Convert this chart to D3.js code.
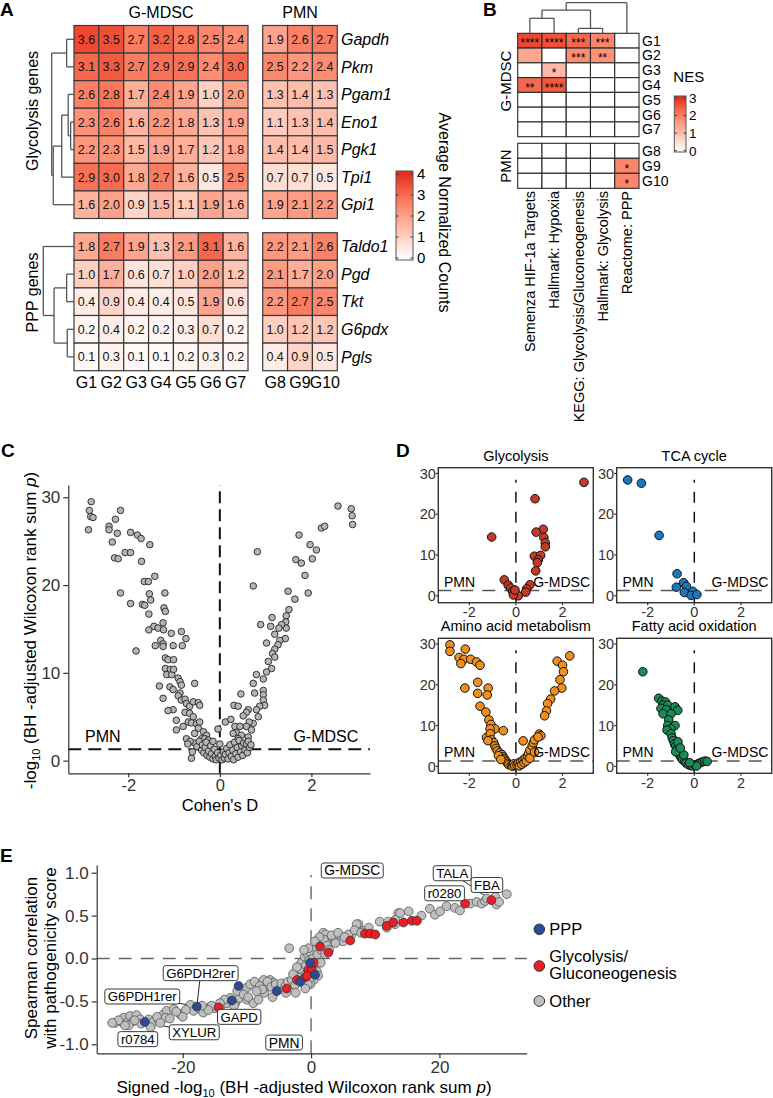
<!DOCTYPE html>
<html><head><meta charset="utf-8">
<script src="https://cdn.jsdelivr.net/npm/d3@7/dist/d3.min.js"></script>
<style>html,body{margin:0;padding:0;background:#fff;}</style>
</head><body>
<svg id="fig" width="773" height="1098" xmlns="http://www.w3.org/2000/svg"></svg>
<script>
// ================= DATA =================
// Panel A
const groupsGM = ["G1","G2","G3","G4","G5","G6","G7"];
const groupsPMN = ["G8","G9","G10"];
const glycGenes = ["Gapdh","Pkm","Pgam1","Eno1","Pgk1","Tpi1","Gpi1"];
const pppGenes = ["Taldo1","Pgd","Tkt","G6pdx","Pgls"];
const glycValues = [
  [3.6,3.5,2.7,3.2,2.8,2.5,2.4, 1.9,2.6,2.7],
  [3.1,3.3,2.7,2.9,2.9,2.4,3.0, 2.5,2.2,2.4],
  [2.6,2.8,1.7,2.4,1.9,1.0,2.0, 1.3,1.4,1.3],
  [2.3,2.6,1.6,2.2,1.8,1.3,1.9, 1.1,1.3,1.4],
  [2.2,2.3,1.5,1.9,1.7,1.2,1.8, 1.4,1.4,1.5],
  [2.9,3.0,1.8,2.7,1.6,0.5,2.5, 0.7,0.7,0.5],
  [1.6,2.0,0.9,1.5,1.1,1.9,1.6, 1.9,2.1,2.2]
];
const pppValues = [
  [1.8,2.7,1.9,1.3,2.1,3.1,1.6, 2.2,2.1,2.6],
  [1.0,1.7,0.6,0.7,1.0,2.0,1.2, 2.1,1.7,2.0],
  [0.4,0.9,0.4,0.4,0.5,1.9,0.6, 2.2,2.7,2.5],
  [0.2,0.4,0.2,0.2,0.3,0.7,0.2, 1.0,1.2,1.2],
  [0.1,0.3,0.1,0.1,0.2,0.3,0.2, 0.4,0.9,0.5]
];
// linkage: [childA, childB, height] ; leaves 0..n-1, merges n..
const glycLinkage = [[3,4,0.15],[2,7,0.26],[0,1,0.33],[8,5,0.55],[10,6,0.93],[9,11,1.0]];
const pppLinkage = [[1,2,0.24],[3,4,0.22],[5,6,0.65],[0,7,1.0]];
const countTicks = [0,1,2,3,4];

// Panel B
const geneSets = ["Semenza HIF-1a Targets","Hallmark: Hypoxia","KEGG: Glycolysis/Gluconeogenesis","Hallmark: Glycolysis","Reactome: PPP"];
const nesGroups = ["G1","G2","G3","G4","G5","G6","G7","G8","G9","G10"];
const nesValues = [
  [2.7,2.6,2.3,1.9,0],
  [1.4,0,1.8,1.7,0],
  [0,1.1,0,0,0],
  [2.3,2.5,0,0,0],
  [0,0,0,0,0],[0,0,0,0,0],[0,0,0,0,0],[0,0,0,0,0],
  [0,0,0,0,1.9],
  [0,0,0,0,1.9]
];
const nesStars = [
  ["****","****","***","***",""],
  ["","","***","**",""],
  ["","*","","",""],
  ["**","****","","",""],
  ["","","","",""],["","","","",""],["","","","",""],["","","","",""],
  ["","","","","*"],
  ["","","","","*"]
];
const setLinkage = [[2,3,0.16],[0,1,0.49],[6,5,0.76],[7,4,1.0]];
const nesTicks = [0,1,2,3];

// Panel C  [Cohen's D, -log10 p]
const cPoints = [
[-2.87,26.3],[-2.85,28.5],[-2.81,29.5],[-2.82,27.8],[-2.77,27.7],[-2.42,26.7],[-2.42,26.3],[-2.35,24.9],[-2.28,27.5],[-2.24,25.9],[-2.17,28.5],[-2.30,23.1],[-2.22,23.0],[-2.07,23.7],[-1.95,23.7],[-1.95,26.0],[-1.80,25.7],[-1.72,25.3],[-1.53,24.6],[-1.71,22.7],[-2.17,19.1],[-1.95,17.9],[-1.83,12.5],[-1.65,20.4],[-1.56,20.4],[-1.42,21.0],[-1.54,19.0],[-1.51,18.3],[-1.69,17.8],[-1.64,17.7],[-1.55,16.7],[-1.55,14.9],[-1.44,15.3],[-1.35,15.1],[-1.23,14.9],[-1.24,15.7],[-1.20,19.1],[-1.22,17.4],[-1.19,17.0],[-1.06,14.5],[-0.84,14.7],[-0.74,13.9],[-0.82,13.1],[-1.02,13.1],[-1.41,13.1],[-1.29,13.7],[-1.24,13.3],[-1.24,13.0],[-1.19,11.7],[-1.13,11.5],[-1.01,11.5],[-1.19,10.5],[-1.08,10.4],[-1.16,9.8],[-1.05,9.8],[-1.01,10.4],[-0.91,9.4],[-0.87,9.0],[-0.84,8.6],[-1.32,8.5],[-1.09,8.4],[-1.02,8.1],[-0.87,7.7],[-0.55,8.8],[-1.24,7.1],[-0.91,7.4],[-0.84,6.9],[-0.76,7.0],[-0.73,6.5],[-0.66,6.2],[-0.58,6.7],[-0.47,6.6],[-0.44,6.3],[-1.02,5.8],[-1.13,5.7],[-0.95,4.6],[-0.76,5.5],[-0.66,5.4],[-0.58,5.0],[-0.69,4.4],[-0.62,4.3],[-0.51,4.2],[-0.44,4.4],[-0.80,3.9],[-0.47,3.7],[-0.36,3.3],[-0.29,2.9],[-0.95,3.5],[-0.55,3.1],[-0.73,2.5],[-0.40,2.5],[-0.33,2.5],[-0.25,2.35],[-0.04,3.6],
[2.58,29.0],[2.87,28.7],[2.89,27.9],[2.90,26.9],[2.22,26.5],[2.29,26.7],[1.73,25.7],[1.97,24.6],[2.11,24.0],[0.82,23.8],[1.66,22.9],[1.78,22.5],[2.02,23.0],[1.86,21.1],[1.93,19.1],[1.64,18.4],[1.49,19.3],[1.51,17.2],[1.45,16.5],[1.44,15.8],[1.45,15.1],[1.43,13.9],[1.35,15.5],[1.29,15.1],[1.14,16.3],[1.11,15.3],[1.20,14.4],[1.31,13.7],[1.27,13.2],[1.20,12.7],[1.15,12.2],[1.20,11.8],[1.02,13.4],[0.89,15.5],[1.06,11.3],[1.13,10.5],[1.02,10.1],[0.73,19.9],[0.95,9.3],[0.80,9.8],[0.73,8.8],[0.76,7.7],[0.95,8.0],[0.95,7.5],[0.95,6.9],[0.98,6.3],[0.87,6.2],[0.80,5.8],[0.84,5.0],[0.73,4.25],[0.46,7.6],[0.31,6.3],[0.40,6.2],[0.62,5.8],[0.58,5.5],[0.51,5.1],[0.64,4.4],[0.58,3.9],[0.69,3.5],[0.12,4.4],[0.24,4.7],[0.33,3.9],[0.44,3.9],[0.36,3.2],[0.47,2.9],[0.29,3.1],[0.62,2.7],[0.40,2.5],
[-0.55,2.0],[-0.5,1.6],[-0.45,2.2],[-0.4,1.2],[-0.38,1.8],[-0.35,0.9],[-0.32,1.5],[-0.3,2.1],[-0.28,0.6],[-0.25,1.1],[-0.22,0.4],[-0.2,1.7],[-0.18,0.8],[-0.15,0.2],[-0.12,1.3],[-0.1,0.5],[-0.08,0.1],[-0.05,0.9],[-0.02,0.3],[0.02,0.6],[0.05,0.1],[0.08,1.0],[0.1,0.3],[0.12,0.7],[0.15,1.4],[0.18,0.2],[0.2,0.9],[0.22,1.8],[0.25,0.5],[0.28,1.2],[0.3,0.1],[0.32,2.1],[0.35,0.8],[0.38,1.5],[0.4,0.4],[0.42,2.3],[0.45,1.0],[0.48,1.7],[0.5,0.6],[0.52,2.0],[0.55,1.2],[0.58,1.9],[0.6,0.9],[0.62,2.2],[0.65,1.5],[0.68,1.8],[-0.62,0.27],[-0.6,1.0],[-0.65,2.2],[-0.7,1.9],[-0.15,2.2],[0.0,1.9]
];
const cXTicks = [-2,0,2];
const cYTicks = [0,10,20,30];

// Panel D
const dGlyc = [[2.92,27.8],[0.82,23.8],[-1.04,14.4],[1.17,16.3],[0.87,15.6],[1.2,14.3],[1.26,13.0],[1.26,12.0],[0.79,9.7],[1.06,9.9],[0.96,8.8],[0.92,8.1],[0.85,6.1],[-0.5,3.9],[-0.33,2.6],[-0.23,1.9],[0.6,2.7],[0.46,1.7],[0.42,0.9],[-0.14,1.1],[-0.06,0.6],[0.1,0.0],[-0.11,0.2],[-0.04,1.4]];
const dTCA = [[-2.86,28.4],[-2.27,27.6],[-1.51,14.8],[-0.74,5.4],[-0.77,2.1],[-0.46,3.2],[-0.34,2.3],[-0.43,0.8],[-0.07,1.1],[-0.14,0.1],[0.11,0.3]];
const dAmino = [[-2.83,29.8],[-2.83,28.2],[-2.44,26.7],[-2.23,26.25],[-2.36,25.2],[-2.17,28.75],[-1.94,26.25],[-1.69,25.6],[-1.54,24.8],[-2.19,19.2],[-1.64,20.6],[-1.64,17.9],[-1.19,19.2],[-1.23,17.5],[-1.54,14.75],[-1.29,13.3],[-1.16,11.4],[-1.07,10.25],[-0.9,9.2],[-0.54,8.75],[-1.11,9.2],[2.31,27.1],[1.77,25.8],[2.0,24.8],[2.04,23.2],[1.89,21.25],[1.97,19.2],[1.66,18.5],[1.49,16.5],[1.36,15.4],[1.31,13.6],[1.23,12.4],[-1.26,7.1],[0.31,6.25],[1.0,7.9],[1.07,7.5],[-1.1,8.0],[-1.05,6.5],[-0.95,5.8],[-0.9,5.0],[-0.85,4.4],[-0.8,3.8],[-0.7,3.3],[-0.6,2.9],[-0.55,2.4],[-0.5,1.9],[-0.45,1.5],[-0.4,1.1],[-0.35,0.7],[-0.3,0.4],[-0.2,0.2],[-0.15,0.05],[-0.1,0.6],[-0.05,0.2],[-1.2,6.3],[-0.75,2.6],[-0.65,1.7],[0.05,0.3],[0.1,0.8],[0.15,0.1],[0.2,1.1],[0.25,0.5],[0.3,1.5],[0.35,0.9],[0.4,2.0],[0.45,1.3],[0.5,2.5],[0.55,3.2],[0.6,4.0],[0.7,5.0],[0.75,5.8],[0.8,6.5],[0.95,7.2],[0.6,2.0],[0.8,3.5]];
const dFatty = [[-2.21,23.2],[-1.53,16.7],[-1.39,16.0],[-1.24,15.8],[-1.34,15.0],[-1.14,15.0],[-1.43,14.2],[-1.2,13.9],[-0.83,14.6],[-0.71,13.75],[-1.34,12.9],[-1.0,12.9],[-1.1,11.4],[-1.14,10.0],[-0.83,10.0],[-1.0,9.2],[-1.17,8.9],[-1.0,8.0],[-0.95,7.0],[-0.9,6.3],[-0.85,5.5],[-0.8,5.0],[-0.75,4.2],[-0.7,3.5],[-0.65,3.0],[-0.6,2.5],[-0.55,2.0],[-0.5,1.6],[-0.4,1.2],[-0.35,0.8],[-0.25,0.4],[-0.15,0.2],[-0.05,0.1],[0.05,0.3],[0.15,0.6],[0.25,0.9],[0.35,1.1],[0.45,1.3],[0.55,1.2],[0.1,0.1],[-0.2,0.9],[-0.45,2.8],[-0.8,3.6],[-0.7,6.0],[-0.6,4.5]];
const dTitles = ["Glycolysis","TCA cycle","Amino acid metabolism","Fatty acid oxidation"];
const dXTicks = [-2,0,2];
const dYTicks = [0,10,20,30];

// Panel E  [signed -log10 p, Spearman r]
const eOther = [
[-30.5,-0.75],[-29.75,-0.73],[-29.2,-0.69],[-28.7,-0.75],[-28.2,-0.67],[-27.7,-0.73],[-28.4,-0.78],[-27.2,-0.66],[-26.6,-0.71],[-25.3,-0.71],[-24.6,-0.74],[-23.8,-0.71],[-23.0,-0.65],[-22.5,-0.61],[-22.7,-0.69],[-21.4,-0.59],[-20.4,-0.65],[-18.8,-0.54],[-18.3,-0.61],[-17.3,-0.59],[-16.8,-0.63],[-15.7,-0.56],[-15.0,-0.58],[-13.9,-0.54],[-13.1,-0.52],[-12.6,-0.46],[-11.8,-0.52],[-11.1,-0.46],[-10.0,-0.34],[-10.0,-0.48],[-9.0,-0.52],[-8.2,-0.48],[-7.4,-0.25],[-6.9,-0.32],[-6.4,-0.25],[-5.9,-0.28],[-7.3,-0.40],[-4.8,-0.32],[-4.4,-0.34],[-3.4,0.12],[-3.3,-0.30],[-2.75,-0.28],[-1.45,-0.21],[-0.67,-0.17],[-1.7,-0.16],[-1.2,-0.09],[-0.93,-0.01],[-0.67,0.03],[-0.16,0.07],[0.36,0.10],[0.88,0.07],[1.9,0.30],[3.0,0.18],[3.7,0.22],[4.5,0.26],[5.0,0.20],[6.3,0.28],[7.4,0.40],[10.7,0.43],[13.1,0.40],[13.6,0.53],[2.3,0.28],[3.5,0.26],[5.8,0.28],[7.1,0.40],[8.1,0.32],[11.8,0.36],[12.0,0.43],[13.1,0.45],[13.9,0.53],[15.2,0.55],[17.2,0.50],[18.5,0.58],[19.3,0.51],[20.1,0.55],[21.1,0.61],[22.4,0.59],[23.2,0.56],[24.8,0.64],[25.8,0.66],[26.6,0.64],[27.1,0.67],[27.4,0.70],[28.7,0.72],[28.9,0.63],[29.3,0.66],[30.5,0.75],
[-9.5,-0.30],[-8.8,-0.27],[-8.0,-0.32],[-7.6,-0.36],[-6.8,-0.27],[-6.2,-0.33],[-5.5,-0.30],[-5.0,-0.36],[-4.6,-0.29],[-4.0,-0.32],[-3.6,-0.27],[-3.0,-0.25],[-2.5,-0.31],[-2.0,-0.22],[-1.8,-0.12],[-1.5,-0.05],[-1.0,0.02],[-0.8,-0.08],[-0.5,0.05],[-0.3,-0.02],[-0.2,0.08],[0.3,0.0],[0.5,-0.1],[0.8,0.12],[1.0,0.05],[1.2,0.18],[1.6,0.10],[2.0,0.22],[2.5,0.15],[3.2,0.27],[3.8,0.18],[4.2,0.30],[5.2,0.25],[6.8,0.33],[7.8,0.30],[9.0,0.36],[-2.8,-0.18],[-2.2,-0.10],[-1.3,-0.28],[-0.7,-0.22],[0.2,-0.2],[0.6,-0.05],[-12.0,-0.55],[-11.5,-0.38],[-10.5,-0.42],[-13.5,-0.48],[-14.2,-0.52],[-15.5,-0.55],[-16.0,-0.60],[-17.0,-0.55],[-19.5,-0.60],[-20.0,-0.68],[-21.0,-0.62],[-22.0,-0.70],[-24.0,-0.68],[-26.5,-0.76],[-27.5,-0.72],[-29.0,-0.78],[-30.0,-0.72],[-31.0,-0.75],[-25.0,-0.80],[-23.5,-0.75],
[0.9,-0.15],[1.1,-0.2],[0.4,-0.25],[-0.1,-0.3],[0.0,-0.22],[-0.5,-0.3],[1.5,-0.05],[2.2,0.05],[2.8,0.1],[1.3,0.25],[0.6,0.2],[-0.4,0.12],[-1.1,0.1],[-0.9,-0.35],[-2.4,-0.4],[-3.9,-0.4],[-6.0,-0.45],[-8.5,-0.38],[-9.8,-0.45]
];
const ePPP = [[-25.9,-0.74],[-17.8,-0.56],[-12.35,-0.49],[-11.3,-0.32],[-5.35,-0.38],[-1.7,-0.27],[-0.16,-0.05],[0.62,-0.19]];
const eGlyc = [[-14.4,-0.57],[-3.8,-0.35],[-2.2,-0.25],[-0.93,-0.22],[-0.42,-0.13],[0.1,-0.13],[1.4,0.14],[2.7,0.07],[6.1,0.21],[8.4,0.29],[9.2,0.29],[10.0,0.28],[11.8,0.38],[12.8,0.42],[14.4,0.42],[15.7,0.44],[16.5,0.44],[24.0,0.64],[28.1,0.68],[-0.6,-0.2],[0.4,-0.05]];
const eLabelText = ["G6PDH2rer","G6PDH1rer","GAPD","XYLUR","r0784","TALA","FBA","r0280"];
const eLabelPos = [[-17.2,-0.171],[-26.3,-0.443],[-11.2,-0.68],[-18.2,-0.86],[-27.0,-0.94],[22.0,0.994],[27.4,0.857],[20.8,0.76]];
const eLabelTarget = [[-17.8,-0.56],[-17.8,-0.56],null,[-25.9,-0.74],null,[28.1,0.68],null,null];
const eSideText = ["G-MDSC","PMN"];
const eSidePos = [[6.42,1.026],[-4.2,-0.98]];
const eXTicks = [-20,0,20];
const eYTicks = [-1,-0.5,0,0.5,1];
const eLegend = [["PPP"],["Glycolysis/","Gluconeogenesis"],["Other"]];

// ================= DRAW =================
const FONT = "'Liberation Sans', Arial, Helvetica, sans-serif";
const svg = d3.select("#fig").attr("font-family", FONT);
svg.append("rect").attr("width",773).attr("height",1098).attr("fill","#fff");
const defs = svg.append("defs");

function ln(g,x1,y1,x2,y2,stroke,sw,dash){
  const l = g.append("line").attr("x1",x1).attr("y1",y1).attr("x2",x2).attr("y2",y2)
    .attr("stroke",stroke).attr("stroke-width",sw);
  if(dash) l.attr("stroke-dasharray",dash);
  return l;
}
function letter(t,x,y){ svg.append("text").attr("x",x).attr("y",y).attr("font-weight","bold").attr("font-size",19).text(t); }

// dendrogram
function dendro(g, linkage, leafPos, hScale, orient){
  const pos = leafPos.slice(); const ht = leafPos.map(()=>0);
  linkage.forEach(([a,b,h])=>{
    const pa=pos[a], pb=pos[b];
    if(orient==="left"){
      ln(g,hScale(ht[a]),pa,hScale(h),pa,"#555",1.3);
      ln(g,hScale(ht[b]),pb,hScale(h),pb,"#555",1.3);
      ln(g,hScale(h),pa,hScale(h),pb,"#555",1.3);
    } else {
      ln(g,pa,hScale(ht[a]),pa,hScale(h),"#555",1.3);
      ln(g,pb,hScale(ht[b]),pb,hScale(h),"#555",1.3);
      ln(g,pa,hScale(h),pb,hScale(h),"#555",1.3);
    }
    pos.push((pa+pb)/2); ht.push(h);
  });
}

// ---------- Panel A ----------
letter("A",0,16);
const gA = svg.append("g");
const xGM = d3.scaleBand().domain(groupsGM).range([74,248]);
const xPMN = d3.scaleBand().domain(groupsPMN).range([262.7,337.3]);
const yGly = d3.scaleBand().domain(glycGenes).range([25.5,218.5]);
const yPPP = d3.scaleBand().domain(pppGenes).range([232.7,370.7]);
const colA = d3.scaleLinear().domain([0,4]).range(["#ffffff","#e8261c"]).interpolate(d3.interpolateLab).clamp(true);

function heatA(genes, values, yS){
  genes.forEach((gene,i)=>{
    values[i].forEach((v,j)=>{
      const isGM = j<7; const grp = isGM?groupsGM[j]:groupsPMN[j-7]; const xs = isGM?xGM:xPMN;
      gA.append("rect").attr("x",xs(grp)).attr("y",yS(gene)).attr("width",xs.bandwidth()).attr("height",yS.bandwidth())
        .attr("fill",colA(v)).attr("stroke","#3a3a3a").attr("stroke-width",1.2);
      gA.append("text").attr("x",xs(grp)+xs.bandwidth()/2).attr("y",yS(gene)+yS.bandwidth()/2).attr("dy","0.36em")
        .attr("text-anchor","middle").attr("font-size",12.5).attr("fill","#111").text(v.toFixed(1));
    });
    gA.append("text").attr("x",341).attr("y",yS(gene)+yS.bandwidth()/2).attr("dy","0.36em")
      .attr("font-size",16).attr("font-style","italic").text(gene);
  });
}
heatA(glycGenes, glycValues, yGly);
heatA(pppGenes, pppValues, yPPP);
gA.append("text").attr("x",(74+248)/2).attr("y",18.3).attr("text-anchor","middle").attr("font-size",16).text("G-MDSC");
gA.append("text").attr("x",(262.7+337.3)/2).attr("y",18.3).attr("text-anchor","middle").attr("font-size",16).text("PMN");
groupsGM.forEach(g=>gA.append("text").attr("x",xGM(g)+xGM.bandwidth()/2).attr("y",388.3).attr("text-anchor","middle").attr("font-size",16).text(g));
groupsPMN.forEach(g=>gA.append("text").attr("x",xPMN(g)+xPMN.bandwidth()/2).attr("y",388.3).attr("text-anchor","middle").attr("font-size",16).text(g));
gA.append("text").attr("transform","translate(37.5,111) rotate(-90)").attr("text-anchor","middle").attr("font-size",16).text("Glycolysis genes");
gA.append("text").attr("transform","translate(37.5,292.5) rotate(-90)").attr("text-anchor","middle").attr("font-size",16).text("PPP genes");
dendro(gA, glycLinkage, glycGenes.map(g=>yGly(g)+yGly.bandwidth()/2), d3.scaleLinear().domain([0,1]).range([74,51.7]), "left");
dendro(gA, pppLinkage, pppGenes.map(g=>yPPP(g)+yPPP.bandwidth()/2), d3.scaleLinear().domain([0,1]).range([74,43.3]), "left");

// colorbar
function colorbar(id, cscale, dom, x, yTop, w, h, tickScale, ticks, fs, labX){
  const grad = defs.append("linearGradient").attr("id",id).attr("x1",0).attr("y1",1).attr("x2",0).attr("y2",0);
  d3.range(0,1.0001,0.1).forEach(t=>grad.append("stop").attr("offset",t).attr("stop-color",cscale(dom[0]+t*(dom[1]-dom[0]))));
  svg.append("rect").attr("x",x).attr("y",yTop).attr("width",w).attr("height",h).attr("fill",`url(#${id})`).attr("stroke","#555").attr("stroke-width",1);
  ticks.forEach(t=>{
    ln(svg,x,tickScale(t),x+2.5,tickScale(t),"#333",1);
    ln(svg,x+w-2.5,tickScale(t),x+w,tickScale(t),"#333",1);
    svg.append("text").attr("x",labX).attr("y",tickScale(t)).attr("dy","0.36em").attr("font-size",fs).text(t);
  });
}
colorbar("gA", colA, [-0.1,4.15], 396, 171, 17, 89, d3.scaleLinear().domain([0,4]).range([258,174]), countTicks, 15, 417);
svg.append("text").attr("transform","translate(438.5,212.5) rotate(90)").attr("text-anchor","middle").attr("font-size",16).text("Average Normalized Counts");

// ---------- Panel B ----------
letter("B",483,16);
const gB = svg.append("g");
const xB = d3.scaleBand().domain(d3.range(geneSets.length)).range([517.7,639]);
const yBg = d3.scaleBand().domain(groupsGM).range([33.3,136.7]);
const yBp = d3.scaleBand().domain(groupsPMN).range([143.3,188.3]);
const colB = d3.scaleLinear().domain([0,3]).range(["#ffffff","#e8261c"]).interpolate(d3.interpolateLab).clamp(true);
nesGroups.forEach((grp,i)=>{
  const ys = i<7?yBg:yBp;
  nesValues[i].forEach((v,j)=>{
    gB.append("rect").attr("x",xB(j)).attr("y",ys(grp)).attr("width",xB.bandwidth()).attr("height",ys.bandwidth())
      .attr("fill",colB(v)).attr("stroke","#2a2a2a").attr("stroke-width",1.1);
    if(nesStars[i][j]) gB.append("text").attr("x",xB(j)+xB.bandwidth()/2).attr("y",ys(grp)+ys.bandwidth()/2+6.8)
      .attr("text-anchor","middle").attr("font-size",12).text(nesStars[i][j]);
  });
  gB.append("text").attr("x",642).attr("y",ys(grp)+ys.bandwidth()/2).attr("dy","0.36em").attr("font-size",14).text(grp);
});
geneSets.forEach((s,j)=>{
  gB.append("text").attr("transform",`translate(${xB(j)+xB.bandwidth()/2+5.2},191) rotate(-90)`).attr("text-anchor","end").attr("font-size",14.5).text(s);
});
gB.append("text").attr("transform","translate(511.4,81) rotate(-90)").attr("text-anchor","middle").attr("font-size",15).text("G-MDSC");
gB.append("text").attr("transform","translate(511.4,166) rotate(-90)").attr("text-anchor","middle").attr("font-size",15).text("PMN");
dendro(gB, setLinkage, geneSets.map((s,j)=>xB(j)+xB.bandwidth()/2), d3.scaleLinear().domain([0,1]).range([33.3,2.7]), "top");
colorbar("gB", colB, [-0.05,3.1], 674.3, 96, 11.7, 56, d3.scaleLinear().domain([0,3]).range([150.7,98]), nesTicks, 13.5, 689);
svg.append("text").attr("x",673.3).attr("y",81.7).attr("font-size",15).text("NES");

// ---------- Panel C ----------
letter("C",1,457);
const gC = svg.append("g");
const xC = d3.scaleLinear().domain([-3.31,3.28]).range([68.3,370]);
const yC = d3.scaleLinear().domain([-1.44,31.4]).range([773.3,485]);
function styleAxis(sel, fs){
  sel.attr("font-family",FONT);
  sel.select(".domain").attr("stroke","#333").attr("stroke-width",1.2);
  sel.selectAll(".tick line").attr("stroke","#333").attr("stroke-width",1.2);
  sel.selectAll(".tick text").attr("font-size",fs).attr("fill","#333");
}
ln(gC,xC(0),yC.range()[0],xC(0),yC.range()[1],"#111",2,"12,6");
ln(gC,xC.range()[0],yC(1.3),xC.range()[1],yC(1.3),"#111",2,"13,7");
gC.selectAll("circle.c").data(cPoints).join("circle").attr("cx",d=>xC(d[0])).attr("cy",d=>yC(d[1])).attr("r",3.3)
  .attr("fill","#b5b5b5").attr("stroke","#222").attr("stroke-width",0.9);
styleAxis(gC.append("g").attr("transform","translate(68.3,0)").call(d3.axisLeft(yC).tickValues(cYTicks).tickSize(5).tickSizeOuter(0).tickPadding(3).tickFormat(d=>String(d))),17);
styleAxis(gC.append("g").attr("transform","translate(0,773.3)").call(d3.axisBottom(xC).tickValues(cXTicks).tickSize(4).tickSizeOuter(0).tickPadding(2).tickFormat(d=>String(d))),16.5);
gC.append("text").attr("x",85).attr("y",742).attr("font-size",16).text("PMN");
gC.append("text").attr("x",358.3).attr("y",742).attr("text-anchor","end").attr("font-size",16).text("G-MDSC");
gC.append("text").attr("x",220).attr("y",811).attr("text-anchor","middle").attr("font-size",16.5).text("Cohen's D");
{
  const t = gC.append("text").attr("transform","translate(36,630.5) rotate(-90)").attr("text-anchor","middle").attr("font-size",17);
  t.append("tspan").text("-log");
  t.append("tspan").attr("font-size",11).attr("dy",4).text("10");
  t.append("tspan").attr("dy",-4).text(" (BH -adjusted Wilcoxon rank sum ");
  t.append("tspan").attr("font-style","italic").text("p");
  t.append("tspan").text(")");
}

// ---------- Panel D ----------
letter("D",396,457);
const dData = [dGlyc,dTCA,dAmino,dFatty];
const dColors = ["#c33b26","#1c78bd","#ef8f1e","#1a8a58"];
const dOrigins = [[438.3,467.7],[616.7,467.7],[438.3,638.3],[616.7,638.3]];
const dW = 155, dH = 135;
dData.forEach((data,k)=>{
  const [x0,y0] = dOrigins[k];
  const g = svg.append("g");
  const xs = d3.scaleLinear().domain([-3.33,3.32]).range([x0,x0+dW]);
  const ys = d3.scaleLinear().domain([-1.7,31.4]).range([y0+dH,y0]);
  ln(g,xs(0),y0+dH,xs(0),y0+12,"#111",1.5,"11,9");
  ln(g,x0,ys(1.3),x0+dW,ys(1.3),"#555",1.6,"13,9");
  g.selectAll("circle").data(data).join("circle").attr("cx",d=>xs(d[0])).attr("cy",d=>ys(d[1])).attr("r",4.3)
    .attr("fill",dColors[k]).attr("stroke","#111").attr("stroke-width",1);
  g.append("text").attr("x",x0+5.7).attr("y",y0+dH-16).attr("font-size",14).text("PMN");
  g.append("text").attr("x",x0+dW-3.3).attr("y",y0+dH-16).attr("text-anchor","end").attr("font-size",14).text("G-MDSC");
  g.append("rect").attr("x",x0).attr("y",y0).attr("width",dW).attr("height",dH).attr("fill","none").attr("stroke","#333").attr("stroke-width",1.4);
  dYTicks.forEach(t=>{
    ln(g,x0-2.5,ys(t),x0,ys(t),"#333",1.2);
    g.append("text").attr("x",x0-2.5).attr("y",ys(t)).attr("dy","0.36em").attr("text-anchor","end").attr("font-size",14.5).attr("fill","#333").text(t);
  });
  dXTicks.forEach(t=>{
    ln(g,xs(t),y0+dH,xs(t),y0+dH+2.5,"#333",1.2);
    g.append("text").attr("x",xs(t)).attr("y",y0+dH+14.5).attr("text-anchor","middle").attr("font-size",14.5).attr("fill","#333").text(t);
  });
  g.append("text").attr("x",x0+dW/2).attr("y",y0-7).attr("text-anchor","middle").attr("font-size",14.5).text(dTitles[k]);
});

// ---------- Panel E ----------
letter("E",0,862);
const gE = svg.append("g");
const xE = d3.scaleLinear().domain([-33.4,33.6]).range([96.7,526.7]);
const yE = d3.scaleLinear().domain([-1.105,1.09]).range([1053.3,865]);
ln(gE,xE(0),1053.3,xE(0),875,"#666",1.4,"13,9");
ln(gE,96.7,yE(0),526.7,yE(0),"#666",1.4,"13,9");
// leader lines
eLabelText.forEach((t,i)=>{
  const tg = eLabelTarget[i]; if(!tg) return;
  ln(gE,xE(tg[0]),yE(tg[1]),xE(eLabelPos[i][0]),yE(eLabelPos[i][1]),"#111",0.9);
});
function pts(data, fill, stroke){
  gE.append("g").selectAll("circle").data(data).join("circle").attr("cx",d=>xE(d[0])).attr("cy",d=>yE(d[1])).attr("r",4.4)
    .attr("fill",fill).attr("stroke",stroke).attr("stroke-width",0.8);
}
pts(eOther,"#bfbfbf","#555");
pts(eGlyc,"#ee1c25","#333");
pts(ePPP,"#2c4a9a","#333");
function boxLabel(text,cx,cy,fs){
  const g = gE.append("g");
  const tx = g.append("text").attr("x",cx).attr("y",cy).attr("dy","0.36em").attr("text-anchor","middle").attr("font-size",fs).text(text);
  const w = tx.node().getComputedTextLength();
  g.insert("rect","text").attr("x",cx-w/2-3).attr("y",cy-7.5).attr("width",w+6).attr("height",15).attr("rx",2.5)
    .attr("fill","#fff").attr("stroke","#222").attr("stroke-width",0.9);
}
eLabelText.forEach((t,i)=>boxLabel(t,xE(eLabelPos[i][0]),yE(eLabelPos[i][1]),13.2));
eSideText.forEach((t,i)=>boxLabel(t,xE(eSidePos[i][0]),yE(eSidePos[i][1]),13.8));
styleAxis(gE.append("g").attr("transform","translate(96.7,0)").call(d3.axisLeft(yE).tickValues(eYTicks).tickSize(5).tickSizeOuter(0).tickPadding(3).tickFormat(d=>d.toFixed(1))),17);
styleAxis(gE.append("g").attr("transform","translate(0,1053.3)").call(d3.axisBottom(xE).tickValues(eXTicks).tickSize(5).tickSizeOuter(0).tickPadding(3).tickFormat(d=>String(d))),17);
{
  const t = gE.append("text").attr("x",304).attr("y",1093).attr("text-anchor","middle").attr("font-size",17);
  t.append("tspan").text("Signed -log");
  t.append("tspan").attr("font-size",11).attr("dy",4).text("10");
  t.append("tspan").attr("dy",-4).text(" (BH -adjusted Wilcoxon rank sum ");
  t.append("tspan").attr("font-style","italic").text("p");
  t.append("tspan").text(")");
}
gE.append("text").attr("transform","translate(37.3,958) rotate(-90)").attr("text-anchor","middle").attr("font-size",17).text("Spearman correlation");
gE.append("text").attr("transform","translate(55.5,958) rotate(-90)").attr("text-anchor","middle").attr("font-size",17).text("with pathogenicity score");
// legend
const legFill = ["#2c4a9a","#ee1c25","#bfbfbf"];
const legY = [929.3,966,1001];
const legTextY = [[935],[962.2,979],[1007.2]];
eLegend.forEach((lines,i)=>{
  gE.append("circle").attr("cx",539.3).attr("cy",legY[i]).attr("r",5.3).attr("fill",legFill[i]).attr("stroke","#333").attr("stroke-width",1);
  lines.forEach((s,j)=>gE.append("text").attr("x",549.3).attr("y",legTextY[i][j]).attr("font-size",16.5).text(s));
});
</script>
</body></html>
